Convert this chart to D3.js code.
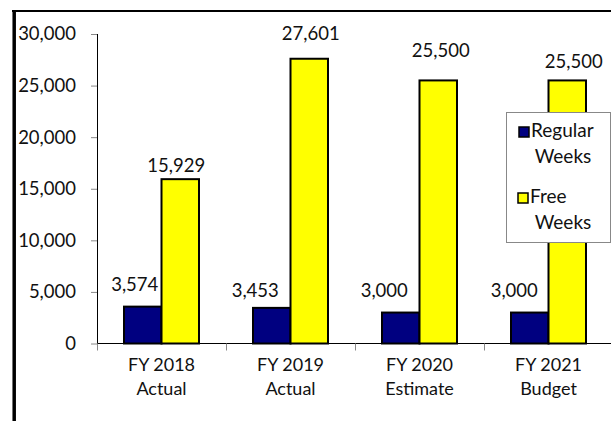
<!DOCTYPE html>
<html>
<head>
<meta charset="utf-8">
<script src="https://cdn.jsdelivr.net/npm/d3@7"></script>
<style>
  html, body { margin: 0; padding: 0; background: #fff; }
  svg { display: block; }
  text { font-family: Lato, "Open Sans", sans-serif; fill: #111; }
</style>
</head>
<body>
<svg id="chart" width="611" height="421"></svg>
<script>
// Fiscal years shown on the x axis (two lines each)
const categories = ["FY 2018|Actual", "FY 2019|Actual", "FY 2020|Estimate", "FY 2021|Budget"];
// Number of weeks per fiscal year
const regularWeeks = [3574, 3453, 3000, 3000];
const freeWeeks = [15929, 27601, 25500, 25500];
const seriesNames = ["Regular|Weeks", "Free|Weeks"];
const yTicks = [0, 5000, 10000, 15000, 20000, 25000, 30000];

// Hand-placed label offsets (dx, gap above bar top), kept apart from the data
const regularLabelNudge = [[-8, 15.5], [-16.5, 11], [-16.5, 15.5], [-15.5, 15.5]];
const freeLabelNudge = [[-4, 7], [1.5, 18.5], [2.5, 23.5], [6.5, 12.5]];

const colors = { regular: "#000080", free: "#FFFF00" };

const svg = d3.select("#chart");
const fmt = d3.format(",");

const x = d3.scaleBand().domain(categories).range([97, 613]).paddingInner(0).paddingOuter(0);
const y = d3.scaleLinear().domain([0, 30000]).range([343.5, 34]);

// Outer frame (only top and left edges fall inside the view)
svg.append("line").attr("x1", 12).attr("x2", 611).attr("y1", 11).attr("y2", 11)
  .attr("stroke", "#000").attr("stroke-width", 2);
svg.append("line").attr("x1", 14.2).attr("x2", 14.2).attr("y1", 10).attr("y2", 421)
  .attr("stroke", "#000").attr("stroke-width", 3.5);

// Y axis
const yAxis = svg.append("g").attr("transform", "translate(97,0)")
  .call(d3.axisLeft(y).tickValues(yTicks).tickFormat(fmt).tickSize(6).tickPadding(15));
yAxis.select(".domain").attr("stroke", "#000").attr("d", `M0.5,${y(30000)}V${y(0)}`);
yAxis.selectAll(".tick line").attr("stroke", "#888").attr("x1", -6).attr("x2", 0);
yAxis.selectAll(".tick text").attr("font-size", 18.5).attr("font-family", "Lato, sans-serif").attr("fill", "#111");

// X axis baseline and category dividers
svg.append("line").attr("x1", 97).attr("x2", 611).attr("y1", y(0)).attr("y2", y(0))
  .attr("stroke", "#000").attr("stroke-width", 1.2);
svg.selectAll(".xtick").data(categories).join("line")
  .attr("class", "xtick")
  .attr("x1", d => Math.round(x(d)) + 0.5).attr("x2", d => Math.round(x(d)) + 0.5)
  .attr("y1", y(0)).attr("y2", y(0) + 7)
  .attr("stroke", "#888");

// Category labels
const catLabels = svg.selectAll(".cat").data(categories).join("text")
  .attr("class", "cat")
  .attr("text-anchor", "middle")
  .attr("font-size", 18)
  .attr("x", d => x(d) + x.bandwidth() / 2);
catLabels.each(function(d) {
  const parts = d.split("|");
  d3.select(this).selectAll("tspan").data(parts).join("tspan")
    .attr("x", x(d) + x.bandwidth() / 2)
    .attr("y", (p, i) => 371 + i * 24)
    .text(p => p);
});

// Bars: two per category, centred in the band
const inner = d3.scaleBand().domain(["regular", "free"]).range([0, x.bandwidth()])
  .paddingInner(0).paddingOuter(0.72);

const rows = categories.map((c, i) => ({ c, regular: regularWeeks[i], free: freeWeeks[i], i }));

["regular", "free"].forEach(key => {
  svg.selectAll(".bar-" + key).data(rows).join("rect")
    .attr("class", "bar-" + key)
    .attr("x", d => x(d.c) + inner(key))
    .attr("width", inner.bandwidth())
    .attr("y", d => y(d[key]))
    .attr("height", d => y(0) - y(d[key]))
    .attr("fill", colors[key])
    .attr("stroke", "#000")
    .attr("stroke-width", 2);
});

// Value labels
[["regular", regularLabelNudge], ["free", freeLabelNudge]].forEach(([key, nudge]) => {
  svg.selectAll(".lbl-" + key).data(rows).join("text")
    .attr("class", "lbl-" + key)
    .attr("text-anchor", "middle")
    .attr("font-size", 18.5)
    .attr("x", d => x(d.c) + inner(key) + inner.bandwidth() / 2 + nudge[d.i][0])
    .attr("y", d => y(d[key]) - nudge[d.i][1])
    .text(d => fmt(d[key]));
});

// Legend
const legend = svg.append("g");
legend.append("rect").attr("x", 506.5).attr("y", 112.5).attr("width", 104).attr("height", 130)
  .attr("fill", "#fff").attr("stroke", "#888").attr("stroke-width", 1);
const legendItems = [
  { name: seriesNames[0], color: colors.regular, sx: 519, sy: 127, ty: 137 },
  { name: seriesNames[1], color: colors.free, sx: 518, sy: 193, ty: 203 }
];
legendItems.forEach(it => {
  legend.append("rect").attr("x", it.sx).attr("y", it.sy).attr("width", 10).attr("height", 10)
    .attr("fill", it.color).attr("stroke", "#000").attr("stroke-width", 1.5);
  const [a, b] = it.name.split("|");
  legend.append("text").attr("x", it.sx + 12).attr("y", it.ty).attr("font-size", 19).text(a);
  legend.append("text").attr("x", 563).attr("y", it.ty + 26).attr("text-anchor", "middle")
    .attr("font-size", 19).text(b);
});
</script>
</body>
</html>
